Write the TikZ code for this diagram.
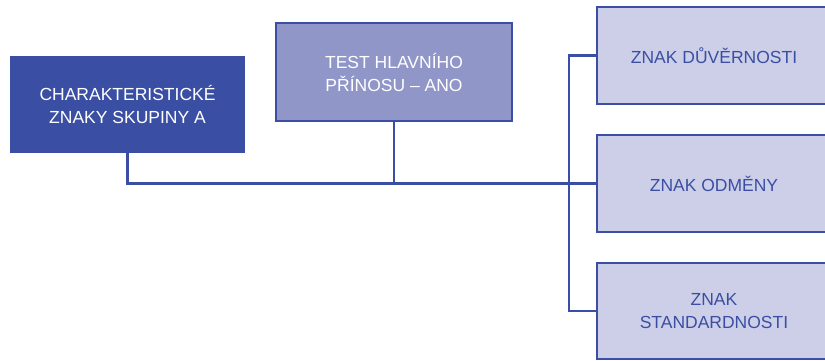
\documentclass[tikz,border=0pt]{standalone}
\usepackage{fontspec}
\setmainfont{Liberation Sans}
\definecolor{dblue}{RGB}{58,79,163}
\definecolor{mblue}{RGB}{144,150,200}
\definecolor{lblue}{RGB}{205,207,232}
\begin{document}
\begin{tikzpicture}[x=1pt,y=-1pt,
  box/.style={rectangle, minimum width=235pt, minimum height=97pt, inner sep=0pt, align=center,
    font=\fontsize{17.5}{23}\selectfont},
  darkbox/.style={box, fill=dblue, text=white},
  midbox/.style={box, fill=mblue, draw=dblue, line width=2.5pt, text=white},
  lightbox/.style={box, fill=lblue, draw=dblue, line width=2.5pt, text=dblue},
  conn/.style={draw=dblue, line width=2.5pt}]
\useasboundingbox (0,0) rectangle (825,360);
\clip (0,0) rectangle (825,360);
\node[darkbox] (A) at (127.5,104.5) {CHARAKTERISTICKÉ\\ZNAKY SKUPINY A};
\node[midbox, minimum width=236pt, minimum height=98pt] (B) at (394,72) {TEST HLAVNÍHO\\PŘÍNOSU – ANO};
\node[lightbox, minimum width=234pt] (C1) at (714,55.5) {ZNAK DŮVĚRNOSTI};
\node[lightbox, minimum width=234pt] (C2) at (714,183.5) {ZNAK ODMĚNY};
\node[lightbox, minimum width=234pt, minimum height=96pt] (C3) at (714,311) {ZNAK\\STANDARDNOSTI};
\coordinate (bus) at (569,0);
\draw[conn] (A.south) |- (C2.west);
\draw[conn] (B.south) -- (B.south |- C2.west);
\draw[conn] (C1.west) -- (bus |- C1.west) -- (bus |- C3.west) -- (C3.west);
\end{tikzpicture}
\end{document}
